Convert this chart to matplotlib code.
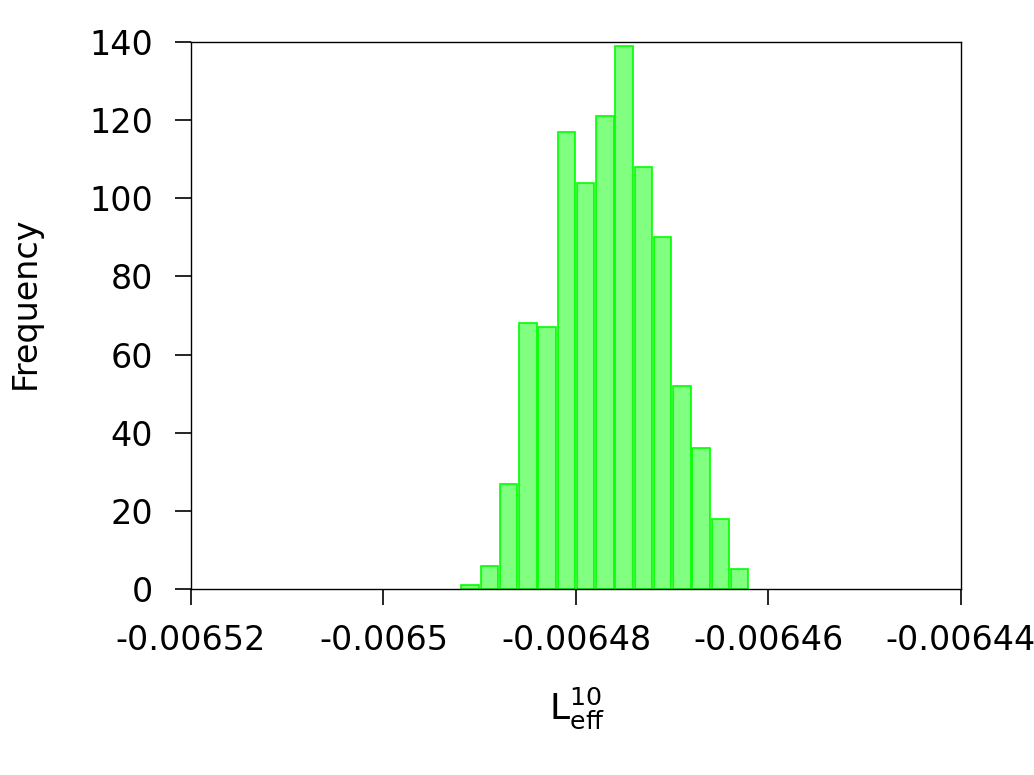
import matplotlib
matplotlib.use('Agg')
import matplotlib.pyplot as plt
import numpy as np

# histogram of L_eff^10
bin_start = -0.006492
bin_width = 0.000002
counts = [1, 6, 27, 68, 67, 117, 104, 121, 139, 108, 90, 52, 36, 18, 5]
xticks = [-0.00652, -0.0065, -0.00648, -0.00646, -0.00644]
xtick_labels = ['-0.00652', '-0.0065', '-0.00648', '-0.00646', '-0.00644']
yticks = [0, 20, 40, 60, 80, 100, 120, 140]

left_edges = bin_start + bin_width * np.arange(len(counts))

fig = plt.figure(figsize=(10.34, 7.75), dpi=100)
ax = fig.add_axes([0.1847, 0.24, 0.7447, 0.7058])

ax.bar(left_edges + bin_width * 0.05, counts, width=bin_width * 0.9, align='edge',
       color='#80ff80', edgecolor='#00ff00', linewidth=1.2)

ax.set_xlim(-0.00652, -0.00644)
ax.set_ylim(0, 140)
ax.set_xticks(xticks)
ax.set_xticklabels(xtick_labels)
ax.set_yticks(yticks)
ax.tick_params(axis='both', direction='out', length=11.5, width=1.2, labelsize=24)
ax.tick_params(axis='y', pad=16)
ax.tick_params(axis='x', pad=14)
for s in ax.spines.values():
    s.set_linewidth(1.0)

# labels placed like the gnuplot original
fig.text(25 / 1034, 1 - 303 / 775, 'Frequency', fontsize=24, rotation=90,
         ha='center', va='center')
fig.text(577 / 1034, 1 - 708 / 775, r'L$_{\mathrm{eff}}^{10}$', fontsize=26,
         ha='center', va='center')

fig.savefig('out.png', dpi=100)
